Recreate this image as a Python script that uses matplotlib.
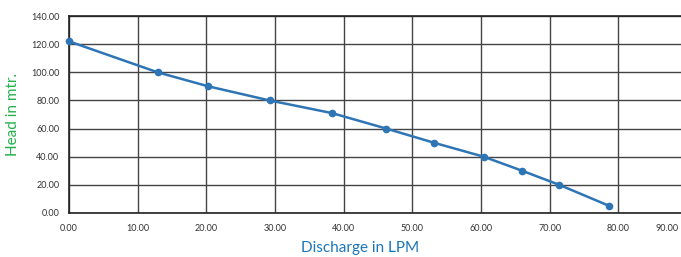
import matplotlib
matplotlib.use("Agg")
import matplotlib.pyplot as plt
from matplotlib.transforms import ScaledTranslation

# pump curve
discharge_lpm = [0.0, 12.9, 20.3, 29.2, 38.3, 46.2, 53.1, 60.4, 66.0, 71.4, 78.7]
head_mtr = [122, 100, 90, 80, 71, 60, 50, 40, 30, 20, 5]

x_ticks = [0, 10, 20, 30, 40, 50, 60, 70, 80, 90]
y_ticks = [0, 20, 40, 60, 80, 100, 120, 140]

plt.rcParams['font.family'] = ['Lato', 'DejaVu Sans']

fig = plt.figure(figsize=(6.81, 2.57), dpi=100)
ax = fig.add_axes([69 / 681, 44 / 257, 618 / 681, 197 / 257])

ax.plot(discharge_lpm, head_mtr, color='#2e75b6', linewidth=1.8,
        marker='o', markersize=4.5, zorder=3, clip_on=False)

ax.set_xlim(0, 90)
ax.set_ylim(0, 140)
ax.set_xticks(x_ticks)
ax.set_yticks(y_ticks)
ax.set_xticklabels([f"{v:.2f}" for v in x_ticks])
ax.set_yticklabels([f"{v:.2f}" for v in y_ticks])
ax.tick_params(axis='both', length=0, labelsize=6.5, colors='#333333')
ax.tick_params(axis='x', pad=8)
ax.tick_params(axis='y', pad=7)

# last x label sits at the figure edge; pull it in so it stays readable
last = ax.get_xticklabels()[-1]
last.set_transform(last.get_transform() + ScaledTranslation(-20 / 100, 0, fig.dpi_scale_trans))

ax.grid(True, color='#444444', linewidth=1.0)
ax.set_axisbelow(True)
for side in ['left', 'bottom', 'top']:
    ax.spines[side].set_color('#222222')
    ax.spines[side].set_linewidth(1.2)
ax.spines['right'].set_visible(False)

ax.set_xlabel('Discharge in LPM', color='#1a75bb', fontsize=11)
ax.xaxis.set_label_coords(0.471, -0.14)
ax.set_ylabel('Head in mtr.', color='#22b14c', fontsize=11, labelpad=8)

fig.savefig('out.png', dpi=100)
